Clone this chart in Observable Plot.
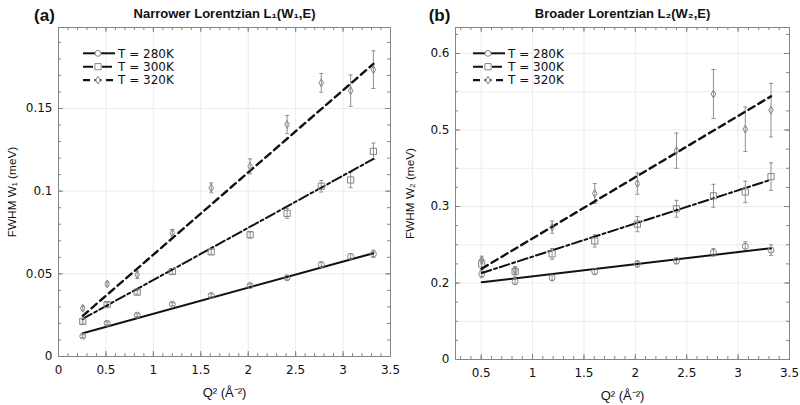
<!DOCTYPE html>
<html><head><meta charset="utf-8">
<script src="https://cdn.jsdelivr.net/npm/d3@7"></script>
<script src="https://cdn.jsdelivr.net/npm/@observablehq/plot@0.6"></script>
<style>
body{margin:0;background:#fff;}
#wrap{display:flex;width:800px;height:405px;overflow:hidden;}
#wrap svg{display:block;}
</style></head><body><div id="wrap"></div>
<script>
// ---------- data ----------
const temps = ["T = 280K", "T = 300K", "T = 320K"];

// Panel (a): narrower Lorentzian W1 (meV) vs Q^2
const q2A = [0.256, 0.513, 0.83, 1.2, 1.61, 2.02, 2.41, 2.77, 3.08, 3.32];
const w1_280 = [0.0123, 0.0201, 0.0250, 0.0316, 0.0369, 0.0429, 0.0476, 0.0556, 0.0605, 0.0621];
const e1_280 = [0.0008, 0.0008, 0.0008, 0.0009, 0.0010, 0.0010, 0.0012, 0.0015, 0.0018, 0.0022];
const w1_300 = [0.0212, 0.0314, 0.0389, 0.0514, 0.0633, 0.0736, 0.0866, 0.1030, 0.1068, 0.1241];
const e1_300 = [0.0010, 0.0012, 0.0012, 0.0015, 0.0015, 0.0018, 0.0030, 0.0035, 0.0047, 0.0050];
const w1_320 = [0.0292, 0.0439, 0.0494, 0.0748, 0.1020, 0.1150, 0.1403, 0.1655, 0.1608, 0.1735];
const e1_320 = [0.0012, 0.0012, 0.0023, 0.0020, 0.0030, 0.0045, 0.0055, 0.0057, 0.0095, 0.0114];
const fitQ2A = [0.256, 3.32];
const fit1_280 = [0.0141, 0.0625];
const fit1_300 = [0.0228, 0.1195];
const fit1_320 = [0.0246, 0.1770];
const xTicksA = [0, 0.5, 1, 1.5, 2, 2.5, 3, 3.5];
const yTicksA = [0, 0.05, 0.1, 0.15];
const yLabelsA = ["0", "0.05", "0.1", "0.15"];

// Panel (b): broader Lorentzian W2 (meV) vs Q^2
const q2B = [0.505, 0.83, 1.19, 1.605, 2.02, 2.4, 2.76, 3.07, 3.32];
const w2_280 = [0.312, 0.302, 0.307, 0.315, 0.325, 0.329, 0.340, 0.348, 0.343];
const e2_280 = [0.005, 0.004, 0.004, 0.004, 0.004, 0.004, 0.005, 0.006, 0.007];
const w2_300 = [0.325, 0.315, 0.338, 0.355, 0.377, 0.397, 0.414, 0.419, 0.439];
const e2_300 = [0.006, 0.006, 0.007, 0.008, 0.010, 0.011, 0.015, 0.014, 0.018];
const w2_320 = [0.330, 0.317, 0.373, 0.417, 0.430, 0.473, 0.547, 0.501, 0.526];
const e2_320 = [0.005, 0.004, 0.008, 0.013, 0.014, 0.023, 0.032, 0.029, 0.035];
const fitQ2B = [0.505, 3.32];
const fit2_280 = [0.301, 0.3455];
const fit2_300 = [0.313, 0.435];
const fit2_320 = [0.3187, 0.544];
const xTicksB = [0.5, 1, 1.5, 2, 2.5, 3, 3.5];
const yTicksB = [0.2, 0.3, 0.4, 0.5, 0.6];
const yLabelsB = ["0", "0.2", "0.3", "0.5", "0.6"];

// ---------- styling ----------
const FONT = "'Liberation Sans', Arial, Helvetica, sans-serif";
const FONT2 = "'DejaVu Sans', Verdana, sans-serif";
const GRAY = "#858585";
const INK = "#111";
const styles = [
  {symbol: "circle", r: 3, dash: null, width: 2},
  {symbol: "square", r: 3.5, dash: "10,3,3,3", width: 2},
  {symbol: "diamond", r: 2.4, dash: "7,4.5", width: 2.4}
];
const capSymbol = {draw(ctx, size) { const w = Math.sqrt(size / Math.PI); ctx.moveTo(-w, 0); ctx.lineTo(w, 0); }};
const d3sym = {circle: d3.symbolCircle, square: d3.symbolSquare, diamond: d3.symbolDiamond};
const rnd = v => Math.round(v * 1000) / 1000;

function panel(cfg) {
  const W = 400, H = 405;
  const {mL, mR, mT, mB} = cfg;
  const pw = W - mL - mR, ph = H - mT - mB;
  const marks = [];
  // faint grid
  marks.push(Plot.gridX(cfg.gridX, {stroke: "#ececec", strokeOpacity: 1}));
  marks.push(Plot.gridY(cfg.gridY, {stroke: "#ececec", strokeOpacity: 1}));
  // series
  cfg.series.forEach((s, k) => {
    const st = styles[k];
    const pts = cfg.q.map((q, i) => ({q, w: s.w[i], e: s.e[i]}));
    const fit = cfg.fitQ.map((q, i) => ({q, w: s.fit[i]}));
    marks.push(Plot.ruleX(pts, {x: "q", y1: d => d.w - d.e, y2: d => d.w + d.e, stroke: GRAY, strokeWidth: 0.9}));
    marks.push(Plot.dot(pts, {x: "q", y: d => d.w + d.e, symbol: capSymbol, r: 2, stroke: GRAY, strokeWidth: 0.9}));
    marks.push(Plot.dot(pts, {x: "q", y: d => d.w - d.e, symbol: capSymbol, r: 2, stroke: GRAY, strokeWidth: 0.9}));
    marks.push(Plot.line(fit, {x: "q", y: "w", stroke: INK, strokeWidth: st.width, strokeDasharray: st.dash}));
    marks.push(Plot.dot(pts, {x: "q", y: "w", symbol: st.symbol, r: st.r, stroke: GRAY, strokeWidth: 1, fill: "none"}));
  });
  // frame
  marks.push(Plot.frame({stroke: GRAY, strokeWidth: 1}));
  // inward ticks on all four sides
  const tk = (vals, len) => [
    Plot.tickX(vals, {x: d => d, insetTop: ph - len, stroke: GRAY}),
    Plot.tickX(vals, {x: d => d, insetBottom: ph - len, stroke: GRAY})
  ];
  const tky = (vals, len) => [
    Plot.tickY(vals, {y: d => d, insetRight: pw - len, stroke: GRAY}),
    Plot.tickY(vals, {y: d => d, insetLeft: pw - len, stroke: GRAY})
  ];
  marks.push(...tk(cfg.minorX, 3), ...tk(cfg.xTicks, 5), ...tky(cfg.minorY, 3), ...tky(cfg.yTicks, 5));
  // tick labels
  marks.push(Plot.axisX(cfg.xTicks, {anchor: "bottom", tickSize: 0, tickPadding: 9, tickFormat: d => String(d), label: null, fontSize: 12, fontFamily: FONT2, fill: "#111"}));
  marks.push(Plot.axisY(cfg.yTicks, {anchor: "left", tickSize: 0, tickPadding: 6, tickFormat: d => cfg.yLabels[cfg.yTicks.indexOf(d)], label: null, fontSize: 12, fontFamily: FONT2, fill: "#111"}));
  // titles
  marks.push(Plot.text([cfg.title], {frameAnchor: "top", dy: -14, textAnchor: "middle", lineAnchor: "middle", fontWeight: "bold", fontSize: 13, fill: "#111"}));
  marks.push(Plot.text([cfg.tag], {frameAnchor: "top-left", dx: cfg.tagDx, dy: -12, textAnchor: "middle", lineAnchor: "middle", fontWeight: "bold", fontSize: 17, fill: "#111"}));
  marks.push(Plot.text([cfg.yTitle], {frameAnchor: "left", dx: cfg.yTitleDx, rotate: -90, textAnchor: "middle", lineAnchor: "middle", fontSize: 11.8, fill: "#111"}));
  marks.push(Plot.text(["Q² (Å⁻²)"], {frameAnchor: "bottom", dy: 36, textAnchor: "middle", lineAnchor: "middle", fontSize: 13, fill: "#111"}));

  const svg = Plot.plot({
    width: W, height: H, marginLeft: mL, marginRight: mR, marginTop: mT, marginBottom: mB,
    x: {domain: cfg.xDomain}, y: {domain: cfg.yDomain},
    style: {fontFamily: FONT, fontSize: "13px", background: "white", color: "#111"},
    marks
  });
  // legend
  const g = d3.select(svg).append("g").attr("font-family", FONT2).attr("font-size", 12).attr("text-anchor", "start");
  temps.forEach((t, k) => {
    const st = styles[k];
    const y = cfg.legY + k * 13.4;
    g.append("line").attr("x1", cfg.legX).attr("x2", cfg.legX + 32).attr("y1", y).attr("y2", y)
      .attr("stroke", INK).attr("stroke-width", st.width).attr("stroke-dasharray", st.dash);
    g.append("path").attr("d", d3.symbol(d3sym[st.symbol], Math.PI * st.r * st.r)())
      .attr("transform", `translate(${cfg.legX + 15},${y})`).attr("fill", "white").attr("stroke", GRAY);
    g.append("text").attr("x", cfg.legX + 35).attr("y", y).attr("dy", "0.35em").attr("fill", "#111")
      .attr("text-anchor", "start").text(t);
  });
  return svg;
}

const wrap = document.getElementById("wrap");
wrap.appendChild(panel({
  mL: 58, mR: 10, mT: 27, mB: 49,
  xDomain: [0, 3.5], yDomain: [0, 0.199],
  xTicks: xTicksA, yTicks: yTicksA, yLabels: yLabelsA,
  minorX: d3.range(0, 36).map(i => rnd(i * 0.1)),
  minorY: d3.range(0, 20).map(i => rnd(i * 0.01)),
  gridX: xTicksA.slice(1, -1), gridY: yTicksA.slice(1),
  q: q2A, fitQ: fitQ2A,
  series: [
    {w: w1_280, e: e1_280, fit: fit1_280},
    {w: w1_300, e: e1_300, fit: fit1_300},
    {w: w1_320, e: e1_320, fit: fit1_320}
  ],
  title: "Narrower Lorentzian L₁(W₁,E)", tag: "(a)", tagDx: -14,
  yTitle: "FWHM W₁ (meV)", yTitleDx: -46,
  legX: 83, legY: 53.3
}));
wrap.appendChild(panel({
  mL: 55, mR: 11, mT: 27, mB: 46,
  xDomain: [0.25, 3.5], yDomain: [0.2, 0.634],
  xTicks: xTicksB, yTicks: yTicksB, yLabels: yLabelsB,
  minorX: d3.range(3, 36).map(i => rnd(i * 0.1)),
  minorY: d3.range(0, 18).map(i => rnd(0.2 + i * 0.025)),
  gridX: xTicksB.slice(0, -1), gridY: d3.range(1, 9).map(i => rnd(0.2 + i * 0.05)),
  q: q2B, fitQ: fitQ2B,
  series: [
    {w: w2_280, e: e2_280, fit: fit2_280},
    {w: w2_300, e: e2_300, fit: fit2_300},
    {w: w2_320, e: e2_320, fit: fit2_320}
  ],
  title: "Broader Lorentzian L₂(W₂,E)", tag: "(b)", tagDx: -16,
  yTitle: "FWHM W₂ (meV)", yTitleDx: -45,
  legX: 73, legY: 53.3
}));
</script></body></html>
